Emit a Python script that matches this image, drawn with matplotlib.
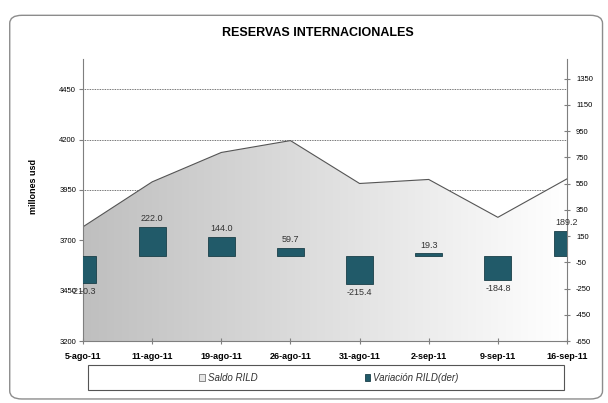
import numpy as np
import matplotlib
matplotlib.use("Agg")
import matplotlib.pyplot as plt
from matplotlib.patches import Polygon, Patch, FancyBboxPatch, Rectangle
from matplotlib.colors import LinearSegmentedColormap

plt.rcParams['font.family'] = ['Liberation Sans', 'DejaVu Sans']
plt.rcParams['axes.unicode_minus'] = False

# data
fechas = ['5-ago-11', '11-ago-11', '19-ago-11', '26-ago-11',
          '31-ago-11', '2-sep-11', '9-sep-11', '16-sep-11']
saldo_rild = [3767, 3990, 4136, 4195, 3982, 4002, 3814, 4005]
variacion_rild = [-210.3, 222.0, 144.0, 59.7, -215.4, 19.3, -184.8, 189.2]

left_ticks = [3200, 3450, 3700, 3950, 4200, 4450]
right_ticks = [-650, -450, -250, -50, 150, 350, 550, 750, 950, 1150, 1350]

bar_color = '#215a69'
line_color = '#555555'
axis_color = '#7f7f7f'

fig = plt.figure(figsize=(6.08, 4.03), dpi=100)

# rounded outer frame
frame = FancyBboxPatch((0.016, 0.01), 0.975, 0.952,
                       boxstyle="round,pad=0,rounding_size=0.02",
                       transform=fig.transFigure, facecolor='white',
                       edgecolor='#8c8c8c', linewidth=1.0, zorder=-10)
fig.patches.append(frame)

ax = fig.add_axes([83 / 608, 1 - 341 / 403, 484 / 608, 282 / 403])
ax.set_facecolor('none')
x = np.arange(len(fechas))
ax.set_xlim(0, len(fechas) - 1)
ax.set_ylim(3200, 4600)

# dotted gridlines behind the area
for t in left_ticks[1:]:
    ax.axhline(t, color='#444444', lw=0.6, ls=(0, (1, 1)), zorder=0)

# gradient filled area
cmap = LinearSegmentedColormap.from_list('g', ['#bfbfbf', '#ffffff'])
grad = np.linspace(0, 1, 256).reshape(1, -1)
im = ax.imshow(grad, extent=[0, len(fechas) - 1, 3200, 4600], aspect='auto',
               cmap=cmap, zorder=1, interpolation='bilinear')
verts = [(0, 3200)] + list(zip(x, saldo_rild)) + [(len(fechas) - 1, 3200)]
poly = Polygon(verts, closed=True, facecolor='none', edgecolor='none')
ax.add_patch(poly)
im.set_clip_path(poly)
ax.plot(x, saldo_rild, color=line_color, lw=0.8, zorder=2)

ax.set_yticks(left_ticks)
ax.set_xticks(x)
ax.set_xticklabels(fechas, fontsize=6.5, fontweight='bold')
ax.tick_params(axis='y', labelsize=5.5, length=3, direction='out',
               color=axis_color, pad=2)
ax.tick_params(axis='x', length=4, direction='inout', color=axis_color, pad=6)
for s in ['top', 'right']:
    ax.spines[s].set_visible(False)
for s in ['left', 'bottom']:
    ax.spines[s].set_color(axis_color)
    ax.spines[s].set_linewidth(0.8)
ax.set_ylabel('millones usd', fontsize=6.5, fontweight='bold')
ax.yaxis.set_label_coords(-45 / 484, (341 - 186) / 282)

ax2 = ax.twinx()
ax2.set_ylim(-650, 1500)
ax2.bar(x, variacion_rild, width=0.39, color=bar_color,
        edgecolor='#1a3f48', linewidth=0.6, zorder=3)
ax2.set_yticks(right_ticks)
ax2.tick_params(axis='y', labelsize=5.5, length=5, direction='inout',
                color=axis_color, pad=4)
for s in ['top', 'left', 'bottom']:
    ax2.spines[s].set_visible(False)
ax2.spines['right'].set_color(axis_color)
ax2.spines['right'].set_linewidth(0.8)

for xi, v in zip(x, variacion_rild):
    off = 28 if v >= 0 else -28
    ax2.text(xi, v + off, f'{v:.1f}', ha='center',
             va='bottom' if v >= 0 else 'top', fontsize=6.5, color='#333333',
             zorder=4, clip_on=False)

fig.text(318 / 608, 1 - 33 / 403, 'RESERVAS INTERNACIONALES', ha='center',
         va='center', fontsize=9, fontweight='bold')

# legend box
box = Rectangle((88 / 608, 1 - 390 / 403), 476 / 608, 25 / 403,
                transform=fig.transFigure, facecolor='white',
                edgecolor='#555555', linewidth=0.8)
fig.patches.append(box)
handles = [Patch(facecolor='#e6e6e6', edgecolor='#777777', linewidth=0.6),
           Patch(facecolor=bar_color, edgecolor='#1a3f48', linewidth=0.6)]
leg = fig.legend(handles, ['Saldo RILD', 'Variación RILD(der)'], ncol=2,
                 loc='center', bbox_to_anchor=(329 / 608, 1 - 378 / 403),
                 frameon=False, handlelength=0.6, handleheight=0.6,
                 handletextpad=0.3, columnspacing=11, borderaxespad=0,
                 prop={'style': 'italic', 'size': 7})
for t in leg.get_texts():
    t.set_color('#333333')

fig.savefig('out.png', dpi=100)
